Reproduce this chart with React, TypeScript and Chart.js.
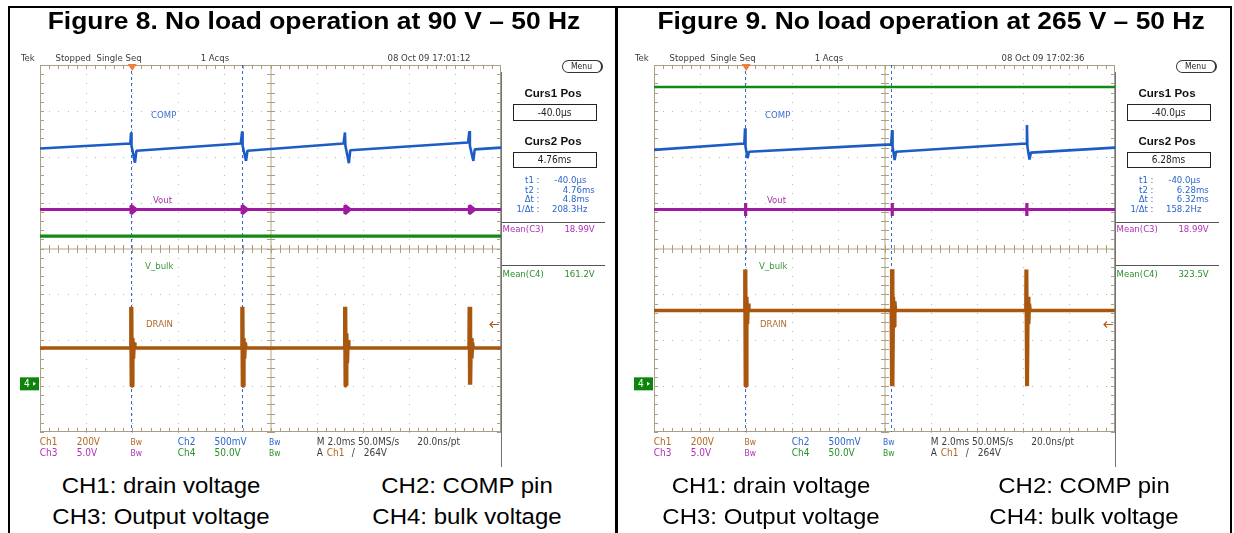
import React, { useEffect, useRef } from 'react';
import { Chart, registerables } from 'chart.js';

Chart.register(...registerables);

// ---------- scope geometry: 2 ms/div time axis (10 div), 8 vertical divisions ----------
const TIME_DIVS = [-4, -2, 0, 2, 4, 6, 8, 10, 12, 14, 16];
const VERT_DIVS = [-4, -3, -2, -1, 0, 1, 2, 3, 4];
const SUBDIV = 5;
const TRIGGER_T = 0;
const CH4_GND_DIV = -2.95;
const TRIG_LEVEL_DIV = -1.65;

// trace annotations drawn on the screen
const TRACE_NAMES = ['COMP', 'Vout', 'V_bulk', 'DRAIN'];
const LABEL_T = [0.82, 0.9, 0.56, 0.6];
const LABEL_DIV = [2.89, 1.04, -0.4, -1.65];

// ---------- Figure 8: 90 V ----------
const F8_COMP_T = [-4.0, -0.08, -0.05, -0.03, 0.12, 0.18, 4.71, 4.77, 4.79, 4.94, 5.0, 9.17, 9.23, 9.25, 9.4, 9.46, 14.57, 14.63, 14.65, 14.8, 14.86, 16.0];
const F8_COMP_V = [2.18, 2.29, 2.53, 2.24, 1.87, 2.13, 2.29, 2.55, 2.24, 1.91, 2.13, 2.29, 2.53, 2.24, 1.86, 2.14, 2.31, 2.56, 2.24, 1.91, 2.16, 2.2];
const F8_DRAIN_T = [-4.0, -0.07, -0.06, -0.04, -0.02, 0.0, 0.03, 0.06, 0.09, 0.12, 4.75, 4.76, 4.78, 4.8, 4.82, 4.85, 4.88, 4.91, 4.94, 9.21, 9.22, 9.24, 9.26, 9.28, 9.31, 9.34, 9.37, 9.4, 14.61, 14.62, 14.64, 14.66, 14.68, 14.71, 14.74, 14.77, 14.8, 16.0];
const F8_DRAIN_V = [-2.17, -2.17, -1.27, -3.0, -1.27, -3.0, -1.95, -2.4, -2.05, -2.17, -2.17, -1.27, -3.0, -1.27, -3.0, -1.95, -2.4, -2.05, -2.17, -2.17, -1.27, -3.0, -1.27, -2.98, -1.85, -2.5, -2.0, -2.17, -2.17, -1.27, -2.97, -1.27, -2.97, -1.95, -2.4, -2.05, -2.17, -2.17];
const F8_VOUT_T = [-4.0, -0.05, -0.05, 0.17, -0.05, -0.05, 4.77, 4.77, 4.99, 4.77, 4.77, 9.23, 9.23, 9.45, 9.23, 9.23, 14.63, 14.63, 14.85, 14.63, 14.63, 16.0];
const F8_VOUT_V = [0.85, 0.85, 0.94, 0.85, 0.76, 0.85, 0.85, 0.94, 0.85, 0.76, 0.85, 0.85, 0.94, 0.85, 0.76, 0.85, 0.85, 0.94, 0.85, 0.76, 0.85, 0.85];
const F8_BULK_T = [-4.0, 16.0];
const F8_BULK_V = [0.27, 0.27];
const F8_CURSORS = [-0.04, 4.76];
const F8_READOUT = ['-40.0µs', '4.76ms', '4.8ms', '208.3Hz'];
const F8_MEANS = ['18.99V', '161.2V'];

// ---------- Figure 9: 265 V ----------
const F9_COMP_T = [-4.0, -0.08, -0.05, -0.03, 0.06, 0.12, 6.29, 6.33, 6.35, 6.44, 6.5, 12.14, 12.18, 12.2, 12.29, 12.35, 16.0];
const F9_COMP_V = [2.15, 2.29, 2.62, 2.22, 1.97, 2.11, 2.27, 2.58, 2.22, 1.93, 2.11, 2.29, 2.69, 2.22, 1.94, 2.09, 2.2];
const F9_DRAIN_T = [-4.0, -0.07, -0.06, -0.04, -0.02, 0.0, 0.03, 0.06, 0.09, 0.12, 6.29, 6.3, 6.32, 6.34, 6.36, 6.39, 6.42, 6.45, 6.48, 12.13, 12.14, 12.16, 12.18, 12.2, 12.23, 12.26, 12.29, 12.32, 16.0];
const F9_DRAIN_V = [-1.35, -1.35, -0.46, -3.0, -0.46, -3.0, -1.05, -1.65, -1.2, -1.35, -1.35, -0.45, -3.0, -0.45, -3.0, -1.05, -1.7, -1.15, -1.35, -1.35, -0.46, -3.0, -0.46, -3.0, -1.05, -1.65, -1.2, -1.35, -1.35];
const F9_VOUT_T = [-4.0, -0.03, -0.03, -0.02, -0.02, 6.33, 6.33, 6.34, 6.34, 12.17, 12.17, 12.18, 12.18, 16.0];
const F9_VOUT_V = [0.85, 0.85, 0.99, 0.71, 0.85, 0.85, 0.99, 0.71, 0.85, 0.85, 0.99, 0.71, 0.85, 0.85];
const F9_BULK_T = [-4.0, 16.0];
const F9_BULK_V = [3.52, 3.52];
const F9_CURSORS = [-0.04, 6.28];
const F9_READOUT = ['-40.0µs', '6.28ms', '6.32ms', '158.2Hz'];
const F9_MEANS = ['18.99V', '323.5V'];

// ---------- styles ----------
const C_COMP = '#1d5cc5';
const C_VOUT = '#9e1a9e';
const C_BULK = '#138a13';
const C_DRAIN = '#a9570f';
const LABEL_COLORS = ['#3b6fd0', '#a834ad', '#3a983a', '#b26b2d'];
const TXT_CH1 = '#b3661f';
const TXT_CH2 = '#2a66cc';
const TXT_CH3 = '#b030b8';
const TXT_CH4 = '#2a902a';
const TXT_GRAY = '#3c3c3c';

const SCOPE_FONT = '"DejaVu Sans Condensed", "DejaVu Sans", sans-serif';
const DOC_FONT = '"Liberation Sans", Arial, sans-serif';

function makeScopePlugin(cursors: number[]) {
  return {
    id: 'scopeScreen',
    beforeDatasetsDraw(chart: any) {
      const { ctx, chartArea, scales } = chart;
      const xs = scales.x;
      const ys = scales.y;
      const l = Math.round(chartArea.left);
      const r = Math.round(chartArea.right);
      const t = Math.round(chartArea.top);
      const b = Math.round(chartArea.bottom);
      const xc = Math.round(xs.getPixelForValue(TIME_DIVS[5]));
      const yc = Math.round(ys.getPixelForValue(VERT_DIVS[4]));
      const subX: number[] = [];
      for (let d = 0; d < TIME_DIVS.length - 1; d++)
        for (let k = 0; k < SUBDIV; k++)
          subX.push(Math.round(xs.getPixelForValue(TIME_DIVS[d] + ((TIME_DIVS[d + 1] - TIME_DIVS[d]) * k) / SUBDIV)));
      const subY: number[] = [];
      for (let d = 0; d < VERT_DIVS.length - 1; d++)
        for (let k = 0; k < SUBDIV; k++)
          subY.push(Math.round(ys.getPixelForValue(VERT_DIVS[d] + ((VERT_DIVS[d + 1] - VERT_DIVS[d]) * k) / SUBDIV)));
      ctx.save();
      // dotted graticule
      ctx.fillStyle = '#b9b9b9';
      TIME_DIVS.forEach((tv, i) => {
        if (i === 0 || i === TIME_DIVS.length - 1 || i === 5) return;
        const px = Math.round(xs.getPixelForValue(tv));
        subY.forEach((py) => ctx.fillRect(px, py, 1, 1));
      });
      VERT_DIVS.forEach((vv, i) => {
        if (i === 0 || i === VERT_DIVS.length - 1 || i === 4) return;
        const py = Math.round(ys.getPixelForValue(vv));
        subX.forEach((px) => ctx.fillRect(px, py, 1, 1));
      });
      // centre cross
      ctx.fillStyle = '#d9d2bd';
      ctx.fillRect(l, yc - 1, r - l, 2);
      ctx.fillRect(xc - 1, t, 2, b - t);
      // tick marks
      ctx.strokeStyle = '#aa9f80';
      ctx.lineWidth = 1;
      ctx.beginPath();
      subX.forEach((px) => {
        const x = px + 0.5;
        ctx.moveTo(x, t); ctx.lineTo(x, t + 4);
        ctx.moveTo(x, b - 4); ctx.lineTo(x, b);
        ctx.moveTo(x, yc - 4); ctx.lineTo(x, yc + 4);
      });
      subY.forEach((py) => {
        const y = py + 0.5;
        ctx.moveTo(l, y); ctx.lineTo(l + 4, y);
        ctx.moveTo(r - 4, y); ctx.lineTo(r, y);
        ctx.moveTo(xc - 4, y); ctx.lineTo(xc + 4, y);
      });
      ctx.stroke();
      ctx.strokeRect(l + 0.5, t + 0.5, r - l - 1, b - t - 1);
      // cursors
      ctx.strokeStyle = '#2f6bd6';
      ctx.setLineDash([3, 3]);
      ctx.beginPath();
      cursors.forEach((c) => {
        const px = Math.round(xs.getPixelForValue(c)) + 0.5;
        ctx.moveTo(px, t);
        ctx.lineTo(px, b);
      });
      ctx.stroke();
      ctx.restore();
    },
    afterDatasetsDraw(chart: any) {
      const { ctx, chartArea, scales } = chart;
      const xs = scales.x;
      const ys = scales.y;
      const l = Math.round(chartArea.left);
      const r = Math.round(chartArea.right);
      const t = Math.round(chartArea.top);
      ctx.save();
      ctx.font = `9.5px ${SCOPE_FONT}`;
      ctx.textBaseline = 'middle';
      ctx.textAlign = 'left';
      TRACE_NAMES.forEach((name, i) => {
        ctx.fillStyle = LABEL_COLORS[i];
        ctx.fillText(name, xs.getPixelForValue(LABEL_T[i]), ys.getPixelForValue(LABEL_DIV[i]));
      });
      // trigger position marker
      const tp = xs.getPixelForValue(TRIGGER_T);
      ctx.fillStyle = '#f37b3b';
      ctx.beginPath();
      ctx.moveTo(tp - 4.5, t - 1);
      ctx.lineTo(tp + 4.5, t - 1);
      ctx.lineTo(tp, t + 6);
      ctx.closePath();
      ctx.fill();
      // channel 4 ground marker
      const gy = ys.getPixelForValue(CH4_GND_DIV);
      ctx.fillStyle = '#0c850c';
      ctx.fillRect(l - 20, gy - 6.5, 19, 13);
      ctx.fillStyle = '#ffffff';
      ctx.font = `10px ${SCOPE_FONT}`;
      ctx.fillText('4', l - 16, gy + 0.5);
      ctx.beginPath();
      ctx.moveTo(l - 7, gy - 2);
      ctx.lineTo(l - 7, gy + 2);
      ctx.lineTo(l - 4, gy);
      ctx.closePath();
      ctx.fill();
      // trigger level arrow
      const ly = Math.round(ys.getPixelForValue(TRIG_LEVEL_DIV)) + 0.5;
      ctx.strokeStyle = '#b0601a';
      ctx.lineWidth = 1.2;
      ctx.beginPath();
      ctx.moveTo(r - 2, ly); ctx.lineTo(r - 11, ly);
      ctx.moveTo(r - 8, ly - 3); ctx.lineTo(r - 11, ly); ctx.lineTo(r - 8, ly + 3);
      ctx.stroke();
      ctx.restore();
    },
  };
}

type TP = { x: number; y: number; fs?: number; c?: string; b?: boolean; a?: 'l' | 'r' | 'c'; f?: string; sx?: number; children: any };
function T({ x, y, fs = 10, c = TXT_GRAY, b = false, a = 'l', f = SCOPE_FONT, sx = 1, children }: TP) {
  const tx = a === 'c' ? 'translateX(-50%) ' : a === 'r' ? 'translateX(-100%) ' : '';
  return (
    <div
      style={{
        position: 'absolute', left: x, top: y - 0.846 * fs, fontSize: fs, lineHeight: fs + 'px', height: fs,
        fontFamily: f, fontStretch: f === SCOPE_FONT ? 'condensed' : 'normal', fontWeight: b ? 700 : 400, color: c,
        whiteSpace: 'pre', transform: tx + `scaleX(${sx})`,
        transformOrigin: a === 'c' ? 'center' : a === 'r' ? 'right' : 'left',
      }}
    >
      {children}
    </div>
  );
}

type FigProps = {
  ox: number; title: string; titleCx: number; date: string;
  compT: number[]; compV: number[]; drainT: number[]; drainV: number[];
  voutT: number[]; voutV: number[]; bulkT: number[]; bulkV: number[]; bulkW: number;
  cursors: number[]; readout: string[]; means: string[]; capCx: number[];
};

function ScopeFigure(p: FigProps) {
  const ref = useRef<HTMLCanvasElement>(null);
  useEffect(() => {
    const traces = [
      { name: 'COMP', t: p.compT, v: p.compV, color: C_COMP, w: 2.6 },
      { name: 'Vout', t: p.voutT, v: p.voutV, color: C_VOUT, w: 3.2 },
      { name: 'V_bulk', t: p.bulkT, v: p.bulkV, color: C_BULK, w: p.bulkW },
      { name: 'DRAIN', t: p.drainT, v: p.drainV, color: C_DRAIN, w: 3.4 },
    ];
    const chart = new Chart(ref.current as HTMLCanvasElement, {
      type: 'scatter',
      data: {
        datasets: traces.map((tr) => ({
          label: tr.name,
          data: tr.t.map((x, i) => ({ x, y: tr.v[i] })),
          showLine: true,
          borderColor: tr.color,
          backgroundColor: tr.color,
          borderWidth: tr.w,
          borderJoinStyle: 'bevel',
          pointRadius: 0,
          pointHoverRadius: 0,
          tension: 0,
          fill: false,
        })),
      },
      options: {
        animation: false,
        responsive: false,
        events: [],
        layout: { padding: { left: 40, right: 115, top: 65, bottom: 38 } },
        scales: {
          x: { type: 'linear', min: TIME_DIVS[0], max: TIME_DIVS[TIME_DIVS.length - 1], display: false },
          y: { type: 'linear', min: VERT_DIVS[0], max: VERT_DIVS[VERT_DIVS.length - 1], display: false },
        },
        plugins: { legend: { display: false }, tooltip: { enabled: false } },
      } as any,
      plugins: [makeScopePlugin(p.cursors)],
    } as any);
    return () => chart.destroy();
  }, []);

  const split = (s: string) => {
    const i = s.indexOf('.');
    return [s.slice(0, i), s.slice(i)];
  };
  const rdLabels = ['t1 :', 't2 :', 'Δt :', '1/Δt :'];
  const rdY = [183.5, 193, 202.5, 212.5];

  return (
    <div style={{ position: 'absolute', left: p.ox, top: 0, width: 616, height: 533 }}>
      <canvas ref={ref} width={616} height={470} style={{ position: 'absolute', left: 0, top: 0 }} />
      <T x={p.titleCx} y={29} fs={24} b a="c" f={DOC_FONT} sx={1.1} c="#000">{p.title}</T>
      {/* header */}
      <T x={21} y={61.5} fs={9.5}>Tek</T>
      <T x={55.5} y={61.5} fs={9.5}>{'Stopped  Single Seq'}</T>
      <T x={200.7} y={61.5} fs={9.5}>1 Acqs</T>
      <T x={387.5} y={61.5} fs={9.5}>{p.date}</T>
      {/* right side panel */}
      <div style={{ position: 'absolute', left: 501, top: 72, width: 1.3, height: 395, background: '#6b7280' }} />
      <div style={{ position: 'absolute', left: 562, top: 59.5, width: 38, height: 11, border: '1px solid #333', borderRightWidth: 2, borderRadius: 7 }} />
      <T x={581.5} y={69.5} fs={8.5} a="c" c="#222">Menu</T>
      <T x={552.5} y={96.7} fs={10.5} b a="c" f={DOC_FONT} sx={1.1} c="#111">Curs1 Pos</T>
      <div style={{ position: 'absolute', left: 513, top: 104, width: 81.5, height: 14.5, border: '1px solid #222' }} />
      <T x={554.5} y={116} fs={10} a="c" c="#222">-40.0µs</T>
      <T x={552.5} y={144.7} fs={10.5} b a="c" f={DOC_FONT} sx={1.1} c="#111">Curs2 Pos</T>
      <div style={{ position: 'absolute', left: 513, top: 151.5, width: 81.5, height: 14.5, border: '1px solid #222' }} />
      <T x={554.5} y={163.5} fs={10} a="c" c="#222">{p.readout[1]}</T>
      {rdLabels.map((s, i) => (
        <T key={'l' + i} x={539.5} y={rdY[i]} fs={9.5} a="r" c={TXT_CH2}>{s}</T>
      ))}
      {p.readout.map((s, i) => {
        const [ip, fp] = split(s);
        return (
          <React.Fragment key={'v' + i}>
            <T x={568.3} y={rdY[i]} fs={9.5} a="r" c={TXT_CH2}>{ip}</T>
            <T x={568.3} y={rdY[i]} fs={9.5} c={TXT_CH2}>{fp}</T>
          </React.Fragment>
        );
      })}
      <div style={{ position: 'absolute', left: 502, top: 222, width: 103, height: 1, background: '#555' }} />
      <T x={502.5} y={232} fs={9.5} c={TXT_CH3}>Mean(C3)</T>
      <T x={564.4} y={232} fs={9.5} c={TXT_CH3}>{p.means[0]}</T>
      <div style={{ position: 'absolute', left: 502, top: 265, width: 103, height: 1, background: '#555' }} />
      <T x={502.5} y={277} fs={9.5} c={TXT_CH4}>Mean(C4)</T>
      <T x={564.4} y={277} fs={9.5} c={TXT_CH4}>{p.means[1]}</T>
      {/* status lines */}
      <T x={39.7} y={445.5} c={TXT_CH1}>Ch1</T>
      <T x={76.7} y={445.5} c={TXT_CH1}>200V</T>
      <T x={130.4} y={445.5} fs={8.5} c={TXT_CH1}>Bw</T>
      <T x={177.7} y={445.5} c={TXT_CH2}>Ch2</T>
      <T x={214.6} y={445.5} c={TXT_CH2}>500mV</T>
      <T x={269} y={445.5} fs={8.5} c={TXT_CH2}>Bw</T>
      <T x={316.8} y={445.5}>M 2.0ms 50.0MS/s</T>
      <T x={417.3} y={445.5}>20.0ns/pt</T>
      <T x={39.7} y={456} c={TXT_CH3}>Ch3</T>
      <T x={76.7} y={456} c={TXT_CH3}>5.0V</T>
      <T x={130.4} y={456} fs={8.5} c={TXT_CH3}>Bw</T>
      <T x={177.7} y={456} c={TXT_CH4}>Ch4</T>
      <T x={214.6} y={456} c={TXT_CH4}>50.0V</T>
      <T x={269} y={456} fs={8.5} c={TXT_CH4}>Bw</T>
      <T x={316.8} y={456}>A</T>
      <T x={326.7} y={456} c={TXT_CH1}>Ch1</T>
      <T x={351.7} y={456}>/</T>
      <T x={363.7} y={456}>264V</T>
      {/* captions */}
      <T x={p.capCx[0]} y={493.3} fs={22} a="c" f={DOC_FONT} sx={1.09} c="#000">CH1: drain voltage</T>
      <T x={p.capCx[1]} y={493.3} fs={22} a="c" f={DOC_FONT} sx={1.09} c="#000">CH2: COMP pin</T>
      <T x={p.capCx[0]} y={525} fs={22} a="c" f={DOC_FONT} sx={1.09} c="#000">CH3: Output voltage</T>
      <T x={p.capCx[1]} y={525} fs={22} a="c" f={DOC_FONT} sx={1.09} c="#000">CH4: bulk voltage</T>
    </div>
  );
}

export default function App() {
  return (
    <div style={{ position: 'absolute', left: 0, top: 0, width: 1234, height: 533, background: '#fff', overflow: 'hidden' }}>
      <ScopeFigure
        ox={0} title="Figure 8. No load operation at 90 V – 50 Hz" titleCx={314} date="08 Oct 09 17:01:12"
        compT={F8_COMP_T} compV={F8_COMP_V} drainT={F8_DRAIN_T} drainV={F8_DRAIN_V}
        voutT={F8_VOUT_T} voutV={F8_VOUT_V} bulkT={F8_BULK_T} bulkV={F8_BULK_V} bulkW={3.4}
        cursors={F8_CURSORS} readout={F8_READOUT} means={F8_MEANS} capCx={[161, 466.5]}
      />
      <ScopeFigure
        ox={614} title="Figure 9. No load operation at 265 V – 50 Hz" titleCx={317} date="08 Oct 09 17:02:36"
        compT={F9_COMP_T} compV={F9_COMP_V} drainT={F9_DRAIN_T} drainV={F9_DRAIN_V}
        voutT={F9_VOUT_T} voutV={F9_VOUT_V} bulkT={F9_BULK_T} bulkV={F9_BULK_V} bulkW={2.4}
        cursors={F9_CURSORS} readout={F9_READOUT} means={F9_MEANS} capCx={[156.5, 469.5]}
      />
      <div style={{ position: 'absolute', left: 8, top: 6, width: 1224, height: 2, background: '#000' }} />
      <div style={{ position: 'absolute', left: 7.5, top: 6, width: 2, height: 527, background: '#000' }} />
      <div style={{ position: 'absolute', left: 615, top: 6, width: 2.5, height: 527, background: '#000' }} />
      <div style={{ position: 'absolute', left: 1230, top: 6, width: 2, height: 527, background: '#000' }} />
    </div>
  );
}
